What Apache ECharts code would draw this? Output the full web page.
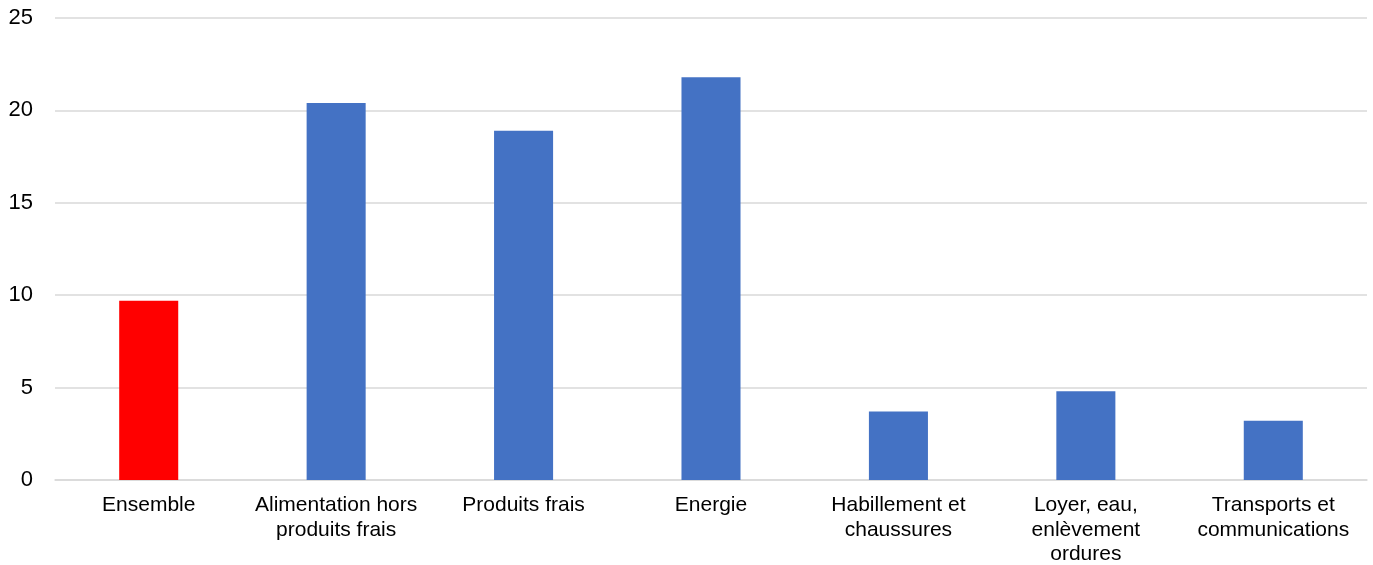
<!DOCTYPE html>
<html>
<head>
<meta charset="utf-8">
<script src="https://cdn.jsdelivr.net/npm/echarts@6/dist/echarts.min.js"></script>
<style>
html,body{margin:0;padding:0;background:#fff;}
#chart{width:1373px;height:565px;}
</style>
</head>
<body>
<div id="chart"></div>
<script>
const categories = [
  "Ensemble",
  "Alimentation hors\nproduits frais",
  "Produits frais",
  "Energie",
  "Habillement et\nchaussures",
  "Loyer, eau,\nenlèvement\nordures",
  "Transports et\ncommunications"
];
const values = [9.7, 20.4, 18.9, 21.8, 3.7, 4.8, 3.2];
const barColors = ["#FF0000", "#4472C4", "#4472C4", "#4472C4", "#4472C4", "#4472C4", "#4472C4"];
const yTicks = [0, 5, 10, 15, 20, 25];

const chart = echarts.init(document.getElementById('chart'), null, {renderer: 'canvas'});
chart.setOption({
  animation: false,
  backgroundColor: '#ffffff',
  grid: {left: 55, right: 6, top: 18, bottom: 85, containLabel: false, outerBoundsMode: 'none'},
  xAxis: {
    type: 'category',
    data: categories,
    axisLine: {show: true, lineStyle: {color: '#d9d9d9', width: 1.5}},
    axisTick: {show: false},
    axisLabel: {
      interval: 0,
      color: '#000000',
      fontFamily: 'Liberation Sans, Arial, sans-serif',
      fontSize: 21,
      lineHeight: 24.5,
      margin: 13
    }
  },
  yAxis: {
    type: 'value',
    min: yTicks[0],
    max: yTicks[yTicks.length - 1],
    interval: 5,
    axisLine: {show: false},
    axisTick: {show: false},
    splitLine: {lineStyle: {color: '#d9d9d9', width: 1.5}},
    axisLabel: {
      color: '#000000',
      fontFamily: 'Liberation Sans, Arial, sans-serif',
      fontSize: 22,
      margin: 22
    }
  },
  series: [{
    type: 'bar',
    barWidth: '31.5%',
    data: values.map((v, i) => ({value: v, itemStyle: {color: barColors[i]}}))
  }]
});
</script>
</body>
</html>
